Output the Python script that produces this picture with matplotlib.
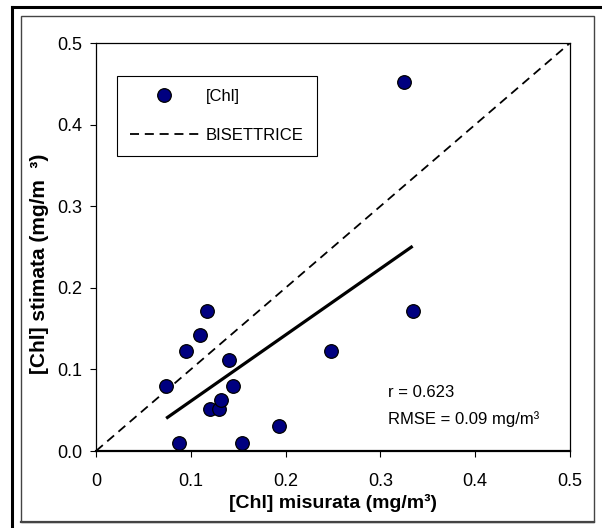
import matplotlib
matplotlib.use('Agg')
import matplotlib.pyplot as plt
from matplotlib.lines import Line2D

plt.rcParams['font.family'] = ['Liberation Sans', 'DejaVu Sans']

# measured vs estimated chlorophyll
chl_misurata = [0.074, 0.088, 0.095, 0.110, 0.117, 0.120, 0.130, 0.132,
                0.140, 0.144, 0.154, 0.193, 0.248, 0.334, 0.325]
chl_stimata = [0.080, 0.010, 0.122, 0.142, 0.171, 0.051, 0.051, 0.063,
               0.112, 0.080, 0.010, 0.031, 0.122, 0.171, 0.452]

# regression line end points
fit_x = [0.074, 0.334]
fit_y = [0.040, 0.251]

# 1:1 line
bis_x = [0.0, 0.5]
bis_y = [0.0, 0.5]

ticks = [0.0, 0.1, 0.2, 0.3, 0.4, 0.5]
xtick_labels = ['0', '0.1', '0.2', '0.3', '0.4', '0.5']
ytick_labels = ['0.0', '0.1', '0.2', '0.3', '0.4', '0.5']

W, H = 602, 528
fig = plt.figure(figsize=(W / 100, H / 100), dpi=100)

# frames around the chart
fig.add_artist(Line2D([12 / W, 12 / W], [0, 1 - 7 / H], color='black', lw=2.2,
                      transform=fig.transFigure))
fig.add_artist(Line2D([12 / W, 1], [1 - 7 / H, 1 - 7 / H], color='black', lw=2.2,
                      transform=fig.transFigure))
fig.add_artist(plt.Rectangle((21 / W, 1 - 522 / H), (594 - 21) / W, (522 - 16) / H,
                             fill=False, edgecolor='#444444', lw=1.0,
                             transform=fig.transFigure))
fig.add_artist(Line2D([21 / W, 594 / W], [1 - 522 / H, 1 - 522 / H], color='#444444',
                      lw=1.6, transform=fig.transFigure))

ax = fig.add_axes([96 / W, 1 - 451 / H, (570 - 96) / W, (451 - 43) / H])

ax.plot(chl_misurata, chl_stimata, linestyle='none', marker='o', markersize=9.8,
        markerfacecolor='#000080', markeredgecolor='black', markeredgewidth=0.9,
        label='[Chl]', zorder=4, clip_on=False)
ax.plot(bis_x, bis_y, color='black', lw=1.3, dashes=(5, 3.2), label='BISETTRICE',
        zorder=3)
ax.plot(fit_x, fit_y, color='black', lw=2.3, solid_capstyle='butt', zorder=3)

ax.set_xlim(0, 0.5)
ax.set_ylim(0, 0.5)
ax.set_xticks(ticks)
ax.set_xticklabels(xtick_labels)
ax.set_yticks(ticks)
ax.set_yticklabels(ytick_labels)
ax.tick_params(direction='out', length=4, width=0.8, labelsize=13)
ax.tick_params(axis='y', pad=6)
ax.tick_params(axis='x', pad=12)

for side in ['top', 'right', 'left']:
    ax.spines[side].set_linewidth(0.9)
ax.spines['bottom'].set_linewidth(1.6)

ax.set_xlabel('[Chl] misurata (mg/m³)', fontsize=14, fontweight='bold', labelpad=3)
ax.set_ylabel('[Chl] stimata (mg/m  ³)', fontsize=15, fontweight='bold')
ax.yaxis.set_label_coords(-0.1, 0.46)

ax.text(0.308, 0.072, 'r = 0.623', fontsize=12, va='center', ha='left')
ax.text(0.308, 0.039, 'RMSE = 0.09 mg/m³', fontsize=12, va='center', ha='left')

leg = ax.legend(loc='upper left', bbox_to_anchor=(0.044, 0.92), borderaxespad=0,
                fancybox=False, edgecolor='black', framealpha=1, fontsize=12,
                handlelength=4.1, handletextpad=0.42, labelspacing=1.45,
                borderpad=0.8)
leg.get_frame().set_linewidth(0.8)

fig.savefig('out.png', dpi=100)
